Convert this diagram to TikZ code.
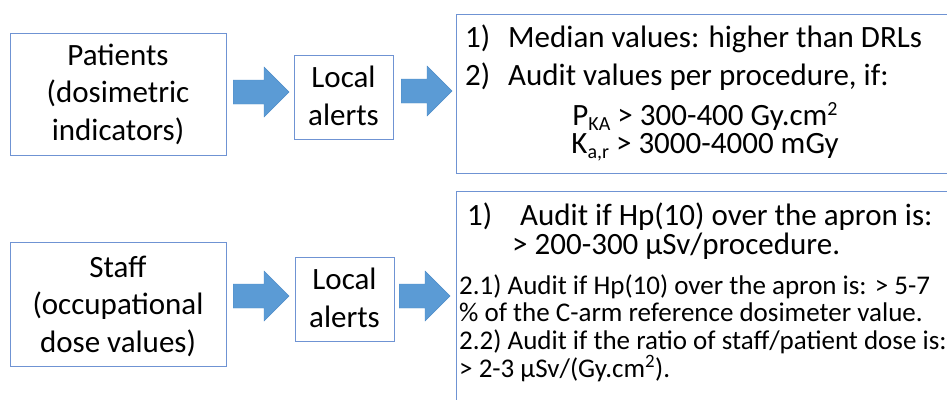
\documentclass[tikz,border=0pt]{standalone}
\usepackage{fontspec}
\setmainfont{Carlito}
\usetikzlibrary{calc}
\definecolor{boxblue}{HTML}{6F93D3}
\definecolor{arrowblue}{HTML}{5B9BD5}
\definecolor{arrowedge}{HTML}{4E8CC8}
\newcommand{\mysub}[1]{\raisebox{-5pt}{\fontsize{20}{20}\selectfont #1}}
\newcommand{\mysup}[1]{\raisebox{10pt}{\fontsize{20}{20}\selectfont #1}}
\newcommand{\blockarr}[5]{%
 \filldraw[blockarrow] let \p1=(#1), \p2=(#2) in
  (\x1+#3pt,-#5pt+12pt) -- (\x2-#4pt-25pt,-#5pt+12pt) -- (\x2-#4pt-25pt,-#5pt+25pt) --
  (\x2-#4pt,-#5pt) -- (\x2-#4pt-25pt,-#5pt-25pt) -- (\x2-#4pt-25pt,-#5pt-12pt) --
  (\x1+#3pt,-#5pt-12pt) -- cycle;}
\begin{document}
\begin{tikzpicture}[x=1pt,y=-1pt,
  box/.style={draw=boxblue, line width=1.2pt, inner sep=0pt},
  big/.style={font=\fontsize{31}{37.5}\selectfont},
  small/.style={font=\fontsize{27}{28}\selectfont},
  txt/.style={inner sep=0pt, anchor=base west},
  ctxt/.style={inner sep=0pt, anchor=base, align=center},
  blockarrow/.style={fill=arrowblue, draw=arrowedge, line width=0.4pt},
]
\useasboundingbox (0,0) rectangle (947,399);
\fill[white] (0,0) rectangle (947,399);
\clip (0,0) rectangle (947,399);

% left boxes
\node[box, minimum width=216pt, minimum height=122pt, anchor=north west] (pat) at (10,33) {};
\node[big, ctxt] (pattxt) at (118,140) {Patients\\(dosimetric\\indicators)};
\node[box, minimum width=216pt, minimum height=124pt, anchor=north west] (staff) at (10,242) {};
\node[big, ctxt] (stafftxt) at (118,352) {Staff\\(occupational\\dose values)};

% local alerts
\node[box, minimum width=99pt, minimum height=84pt, anchor=north west] (la1) at (294,55) {};
\node[big, ctxt] (la1txt) at (343.5,125) {Local\\alerts};
\node[box, minimum width=99pt, minimum height=84pt, anchor=north west] (la2) at (295,257) {};
\node[big, ctxt] (la2txt) at (344.5,327) {Local\\alerts};

% right boxes
\node[box, minimum width=520pt, minimum height=159pt, anchor=north west] (rb1) at (456,14) {};
\node[box, minimum width=520pt, minimum height=240pt, anchor=north west] (rb2) at (456,191) {};

% arrows
\blockarr{pat.east}{la1.west}{6}{5}{92}
\blockarr{la1.east}{rb1.west}{7}{4}{91}
\blockarr{staff.east}{la2.west}{6}{6}{296}
\blockarr{la2.east}{rb2.west}{4}{6}{296}

% top right text
\node[big, txt] (n1) at (465,47) {1)};
\node[big, txt] (t1) at (508,47) {Median values: higher than DRLs};
\node[big, txt] (n2) at (465,85) {2)};
\node[big, txt] (t2) at (508,85) {Audit values per procedure, if:};
\node[big, ctxt] (t3) at (705,125) {P\mysub{KA} > 300-400 Gy.cm\mysup{2}};
\node[big, ctxt] (t4) at (705,153) {K\mysub{a,r} > 3000-4000 mGy};

% bottom right text
\node[big, txt] (m1) at (467,225) {1)};
\node[big, txt] (s1) at (520,225) {Audit if Hp(10) over the apron is:};
\node[big, txt] (s1b) at (512,254) {> 200-300 µSv/procedure.};
\node[small, txt] (s2) at (459,294) {2.1) Audit if Hp(10) over the apron is: > 5-7};
\node[small, txt] (s3) at (459,321) {\% of the C-arm reference dosimeter value.};
\node[small, txt] (s4) at (459,349) {2.2) Audit if the ratio of staff/patient dose is:};
\node[small, txt] (s5) at (459,377) {> 2-3 µSv/(Gy.cm\textsuperscript{2}).};
\end{tikzpicture}
\end{document}
